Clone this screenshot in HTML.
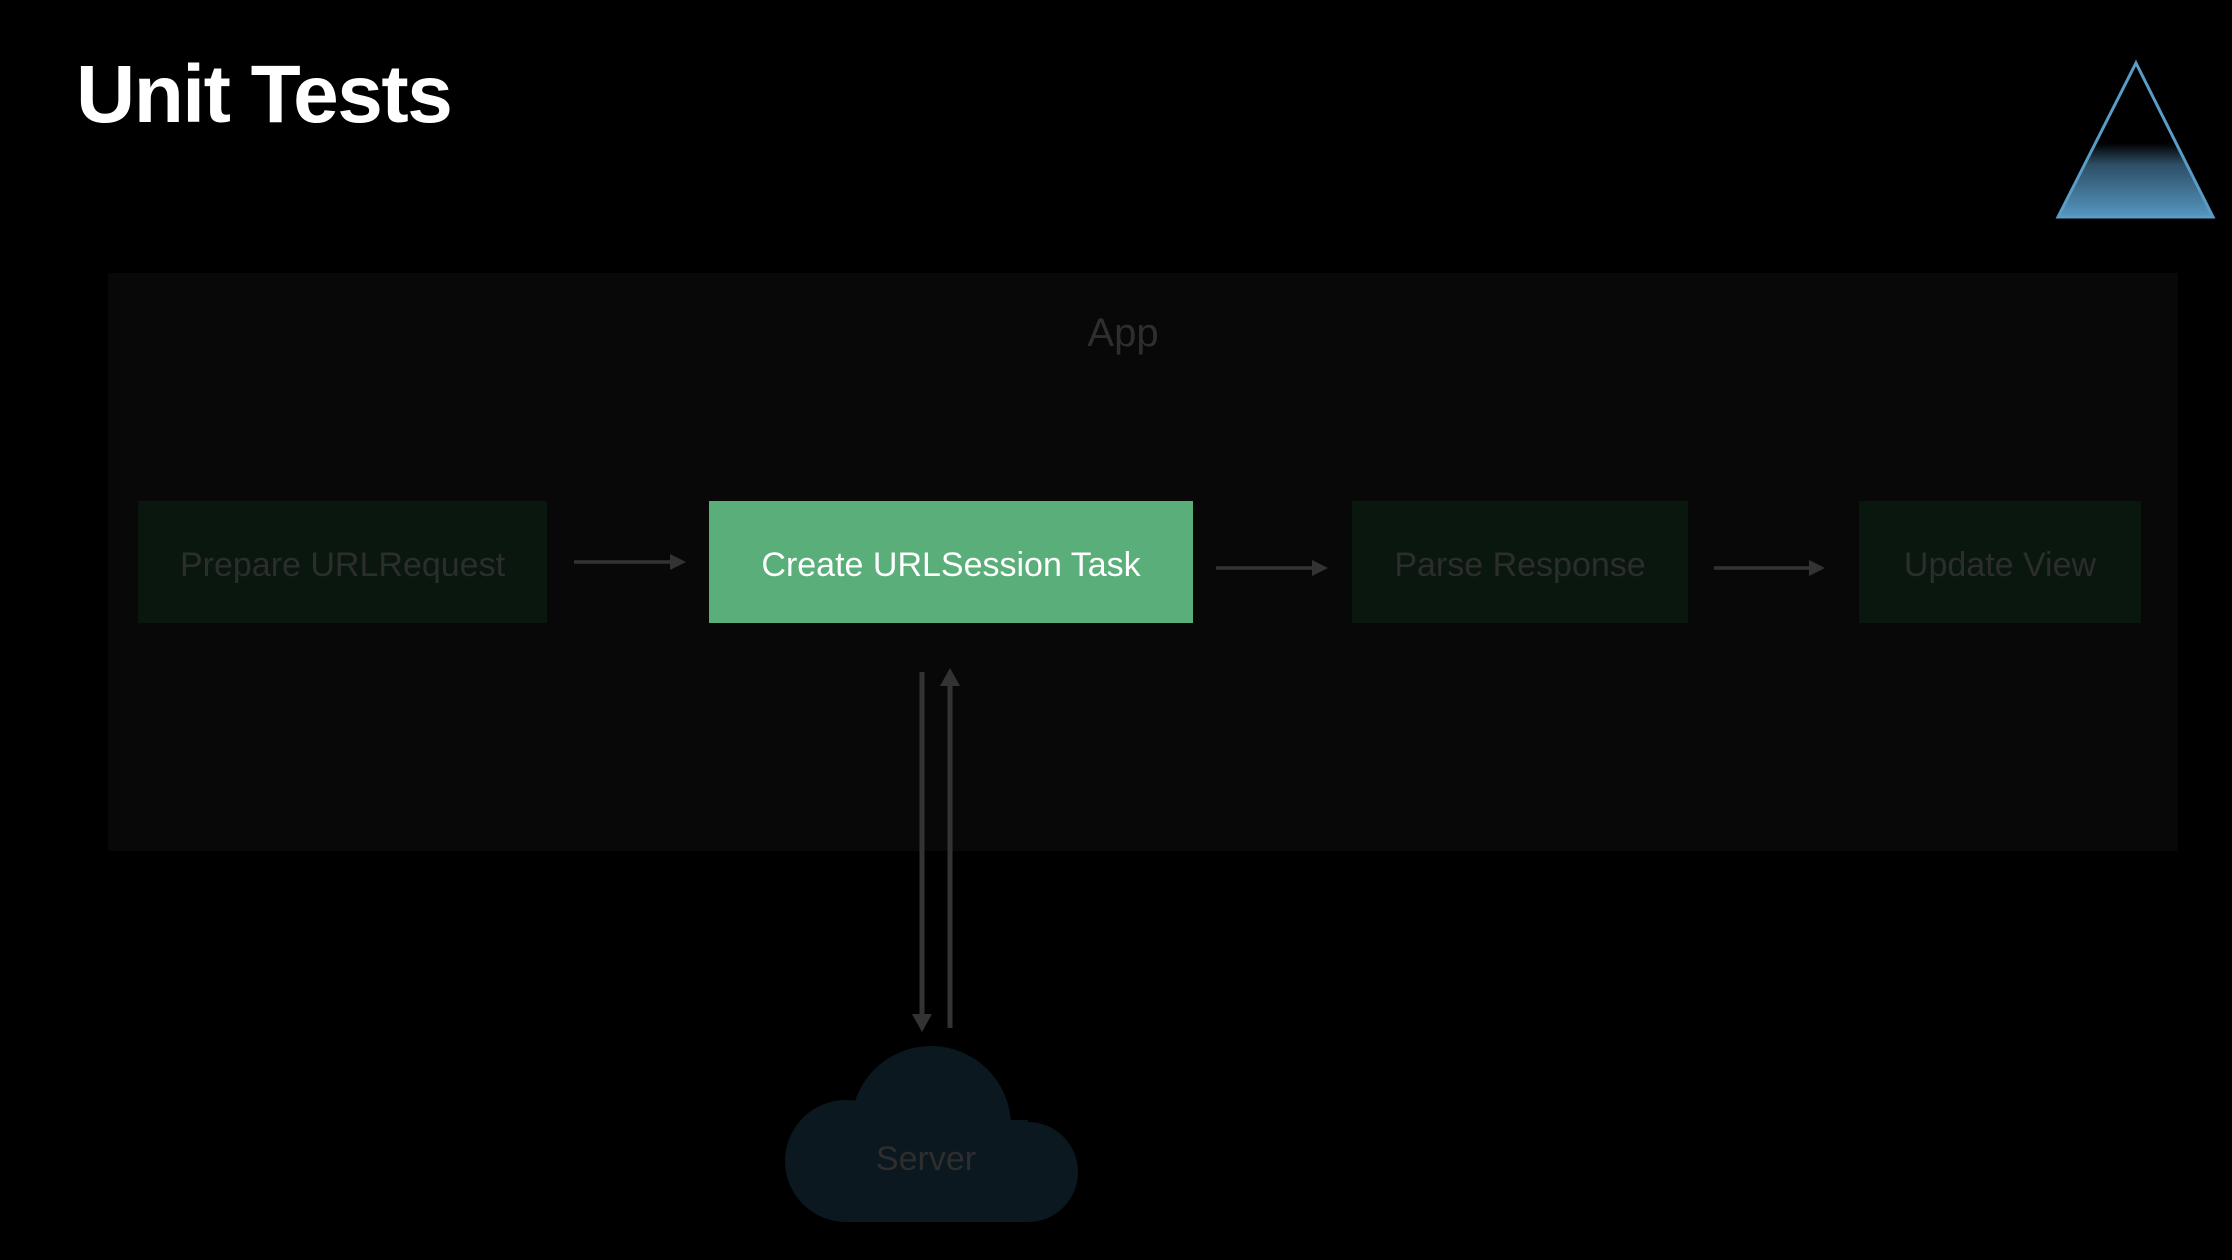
<!DOCTYPE html>
<html><head><meta charset="utf-8"><style>
html,body{margin:0;padding:0;background:#000;}
body{width:2232px;height:1260px;position:relative;overflow:hidden;font-family:"Liberation Sans",sans-serif;}
.t{position:absolute;left:76px;top:48px;font-size:82px;font-weight:bold;color:#fff;letter-spacing:-1.5px;}
.app{position:absolute;left:108px;top:273px;width:2070px;height:578px;background:#080808;}
.box{position:absolute;top:501px;height:122px;box-sizing:border-box;padding-top:6px;display:flex;align-items:center;justify-content:center;font-size:34px;color:#2c2e2c;background:#0a170f;}
</style></head><body>
<div class="t">Unit Tests</div>
<div class="app"></div>
<div style="position:absolute;left:1023px;top:311px;width:200px;text-align:center;font-size:40px;color:#2e2e2e;">App</div>
<div class="box" style="left:138px;width:409px;">Prepare URLRequest</div>
<div class="box" style="left:709px;width:484px;background:#5aae7a;color:#fff;">Create URLSession Task</div>
<div class="box" style="left:1352px;width:336px;">Parse Response</div>
<div class="box" style="left:1859px;width:282px;">Update View</div>
<svg width="2232" height="1260" style="position:absolute;left:0;top:0">
<defs><linearGradient id="g" x1="0" y1="0" x2="0" y2="1">
<stop offset="0" stop-color="#000"/><stop offset="0.52" stop-color="#000"/><stop offset="0.66" stop-color="#2d4f66"/><stop offset="1" stop-color="#5596c0"/></linearGradient></defs>
<polygon points="2136,63 2213,217 2058,217" fill="url(#g)" stroke="#5a9cc8" stroke-width="3"/>
<g stroke="#333" stroke-width="3.5" fill="#333">
<line x1="574" y1="562" x2="672" y2="562"/><polygon points="686,562 670,554 670,570" stroke="none"/>
<line x1="1216" y1="568" x2="1314" y2="568"/><polygon points="1328,568 1312,560 1312,576" stroke="none"/>
<line x1="1714" y1="568" x2="1811" y2="568"/><polygon points="1825,568 1809,560 1809,576" stroke="none"/>
<line x1="922" y1="672" x2="922" y2="1016" stroke-width="5"/><polygon points="922,1032 912,1014 932,1014" stroke="none"/>
<line x1="950" y1="684" x2="950" y2="1028" stroke-width="5"/><polygon points="950,668 940,686 960,686" stroke="none"/>
</g>
<g fill="#0b1820">
<circle cx="931" cy="1126" r="80"/>
<circle cx="846" cy="1161" r="61"/>
<circle cx="1028" cy="1172" r="50"/>
<rect x="846" y="1120" width="182" height="102"/>
</g>
<text x="926" y="1170" text-anchor="middle" font-size="34" fill="#2e2e2e" font-family="Liberation Sans, sans-serif">Server</text>
</svg>
</body></html>
